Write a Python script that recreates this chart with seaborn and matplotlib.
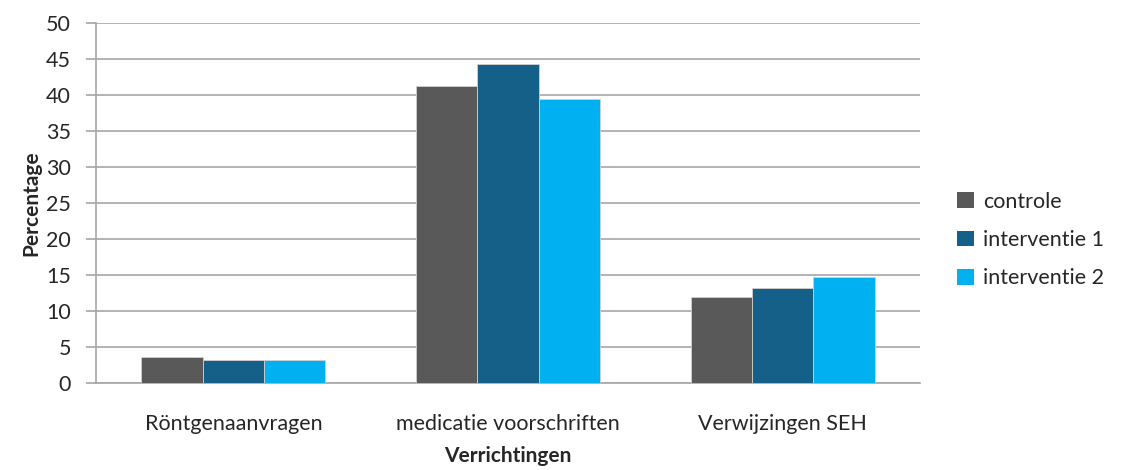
import matplotlib
matplotlib.use("Agg")
import matplotlib.pyplot as plt
import pandas as pd
import seaborn as sns

# data
categorieen = ["Röntgenaanvragen", "medicatie voorschriften", "Verwijzingen SEH"]
controle = [3.7, 41.3, 12.0]
interventie_1 = [3.3, 44.3, 13.2]
interventie_2 = [3.3, 39.5, 14.7]
groepen = ["controle", "interventie 1", "interventie 2"]
kleuren = ["#595959", "#156089", "#00B0F0"]

df = pd.DataFrame({
    "categorie": categorieen * 3,
    "groep": [g for g in groepen for _ in categorieen],
    "waarde": controle + interventie_1 + interventie_2,
})

sns.set_theme(style="white")
plt.rcParams["font.family"] = ["Lato", "DejaVu Sans"]

fig = plt.figure(figsize=(11.26, 4.70), dpi=100)
ax = fig.add_axes([96 / 1126, 1 - 383.3 / 470, (920 - 96) / 1126, (383.3 - 23) / 470])

sns.barplot(data=df, x="categorie", y="waarde", hue="groep", order=categorieen,
            hue_order=groepen, palette=kleuren, width=0.67, saturation=1,
            edgecolor="#d0d0d0", linewidth=0.6, ax=ax, zorder=3)

ax.set_ylim(0, 50)
ax.set_yticks(range(0, 51, 5))
ax.yaxis.grid(True, color="#a6a6a6", linewidth=1.2, zorder=0)
ax.set_axisbelow(True)
for s in ["top", "right"]:
    ax.spines[s].set_visible(False)
for s in ["left", "bottom"]:
    ax.spines[s].set_color("#a6a6a6")
    ax.spines[s].set_linewidth(1.2)
ax.tick_params(axis="y", which="both", left=True, length=7, color="#a6a6a6",
               width=1.2, labelsize=15.5, pad=11)
ax.tick_params(axis="x", bottom=False, labelsize=15.5, pad=16)

ax.set_xlabel("Verrichtingen", fontsize=15, fontweight="bold", labelpad=9)
ax.set_ylabel("Percentage", fontsize=15, fontweight="bold", labelpad=3)

leg = ax.legend(loc="center left", bbox_to_anchor=(1.035, 0.398), frameon=False,
                fontsize=15.5, handlelength=0.75, handleheight=0.75,
                handletextpad=0.45, labelspacing=0.85, borderaxespad=0)
for h in leg.legend_handles:
    h.set_edgecolor("none")

fig.savefig("out.png", dpi=100)
